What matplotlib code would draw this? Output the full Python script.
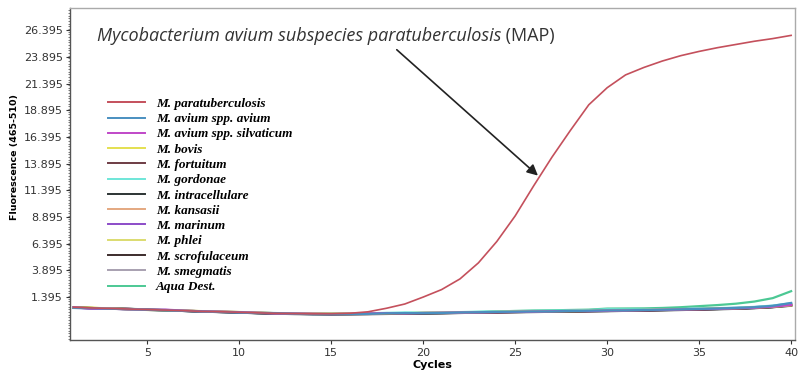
import numpy as np
import matplotlib
matplotlib.use("Agg")
import matplotlib.pyplot as plt
from matplotlib.ticker import MultipleLocator

# amplification curves, one value per cycle (1..40)
cycles = list(range(1, 41))

map_curve = [0.45, 0.38, 0.33, 0.28, 0.22, 0.18, 0.12, 0.06, 0.02, -0.02,
             -0.08, -0.12, -0.15, -0.17, -0.16, -0.12, 0.02, 0.35, 0.75, 1.4,
             2.1, 3.1, 4.6, 6.6, 9.0, 11.8, 14.5, 17.0, 19.4, 21.0,
             22.2, 22.9, 23.5, 24.0, 24.4, 24.75, 25.05, 25.35, 25.6, 25.9]
avium = [0.40, 0.36, 0.30, 0.27, 0.20, 0.15, 0.10, 0.05, 0.00, -0.05,
         -0.10, -0.10, -0.16, -0.20, -0.20, -0.19, -0.17, -0.12, -0.10, -0.11,
         -0.09, -0.04, -0.02, 0.01, 0.03, 0.05, 0.05, 0.09, 0.12, 0.15,
         0.15, 0.19, 0.22, 0.25, 0.29, 0.33, 0.38, 0.45, 0.58, 0.85]
silvaticum = [0.45, 0.30, 0.31, 0.25, 0.21, 0.22, 0.13, 0.07, 0.03, -0.01,
              -0.07, -0.14, -0.14, -0.16, -0.19, -0.17, -0.13, -0.10, -0.13, -0.09,
              -0.07, -0.05, -0.04, -0.01, 0.01, 0.03, 0.07, 0.10, 0.09, 0.12,
              0.14, 0.17, 0.20, 0.23, 0.26, 0.30, 0.34, 0.40, 0.50, 0.65]
bovis = [0.43, 0.39, 0.34, 0.26, 0.19, 0.17, 0.14, 0.08, 0.04, 0.00,
         -0.06, -0.11, -0.13, -0.15, -0.16, -0.15, -0.15, -0.13, -0.11, -0.08,
         -0.07, -0.05, -0.02, 0.01, 0.04, 0.05, 0.07, 0.09, 0.11, 0.14,
         0.16, 0.19, 0.22, 0.25, 0.28, 0.32, 0.35, 0.41, 0.49, 0.62]
fortuitum = [0.41, 0.37, 0.32, 0.29, 0.23, 0.16, 0.11, 0.04, 0.01, -0.03,
             -0.09, -0.13, -0.17, -0.18, -0.20, -0.20, -0.18, -0.16, -0.14, -0.12,
             -0.10, -0.07, -0.05, -0.02, 0.00, 0.02, 0.04, 0.07, 0.09, 0.11,
             0.14, 0.17, 0.19, 0.22, 0.26, 0.29, 0.34, 0.40, 0.48, 0.66]
gordonae = [0.38, 0.36, 0.31, 0.27, 0.24, 0.19, 0.13, 0.07, 0.03, -0.01,
            -0.07, -0.10, -0.12, -0.15, -0.16, -0.15, -0.12, -0.08, -0.04, -0.06,
            -0.04, -0.01, 0.03, 0.06, 0.08, 0.10, 0.12, 0.14, 0.18, 0.26,
            0.24, 0.23, 0.25, 0.28, 0.33, 0.37, 0.40, 0.48, 0.60, 0.82]
intracellulare = [0.42, 0.37, 0.32, 0.27, 0.21, 0.17, 0.10, 0.04, -0.01, -0.05,
                  -0.12, -0.16, -0.19, -0.21, -0.22, -0.21, -0.20, -0.18, -0.16, -0.14,
                  -0.12, -0.09, -0.06, -0.04, -0.02, 0.00, 0.02, 0.04, 0.06, 0.08,
                  0.11, 0.13, 0.16, 0.19, 0.22, 0.26, 0.30, 0.36, 0.45, 0.60]
kansasii = [0.40, 0.38, 0.33, 0.28, 0.22, 0.18, 0.12, 0.06, 0.02, -0.02,
            -0.08, -0.12, -0.15, -0.17, -0.18, -0.18, -0.16, -0.14, -0.12, -0.10,
            -0.08, -0.06, -0.03, -0.02, 0.02, 0.04, 0.06, 0.08, 0.10, 0.13,
            0.16, 0.18, 0.21, 0.24, 0.27, 0.31, 0.36, 0.42, 0.52, 0.70]
marinum = [0.39, 0.33, 0.35, 0.30, 0.20, 0.19, 0.14, 0.05, 0.03, -0.04,
           -0.06, -0.11, -0.14, -0.18, -0.17, -0.16, -0.15, -0.15, -0.11, -0.09,
           -0.06, -0.05, -0.02, 0.02, 0.03, 0.06, 0.08, 0.09, 0.12, 0.14,
           0.17, 0.20, 0.23, 0.27, 0.30, 0.34, 0.39, 0.46, 0.56, 0.78]
phlei = [0.44, 0.40, 0.32, 0.29, 0.23, 0.17, 0.12, 0.07, 0.02, -0.01,
         -0.07, -0.11, -0.14, -0.16, -0.17, -0.17, -0.16, -0.13, -0.12, -0.10,
         -0.07, -0.06, -0.03, 0.00, 0.02, 0.05, 0.06, 0.08, 0.10, 0.12,
         0.15, 0.18, 0.21, 0.24, 0.27, 0.30, 0.35, 0.41, 0.50, 0.63]
scrofulaceum = [0.41, 0.36, 0.31, 0.26, 0.20, 0.16, 0.10, 0.05, 0.00, -0.04,
                -0.10, -0.14, -0.17, -0.19, -0.20, -0.19, -0.18, -0.16, -0.14, -0.12,
                -0.10, -0.08, -0.05, -0.03, 0.00, 0.02, 0.04, 0.06, 0.08, 0.10,
                0.13, 0.15, 0.18, 0.21, 0.24, 0.28, 0.32, 0.38, 0.47, 0.64]
smegmatis = [0.40, 0.37, 0.32, 0.27, 0.22, 0.17, 0.11, 0.06, 0.01, -0.03,
             -0.08, -0.12, -0.15, -0.17, -0.18, -0.17, -0.16, -0.14, -0.12, -0.09,
             -0.08, -0.05, -0.03, 0.00, 0.02, 0.04, 0.06, 0.08, 0.10, 0.12,
             0.15, 0.17, 0.20, 0.23, 0.26, 0.29, 0.33, 0.38, 0.46, 0.58]
aqua_dest = [0.42, 0.37, 0.33, 0.30, 0.24, 0.18, 0.12, 0.06, 0.02, -0.02,
             -0.08, -0.11, -0.14, -0.16, -0.17, -0.16, -0.14, -0.12, -0.10, -0.08,
             -0.06, -0.03, 0.00, 0.05, 0.10, 0.14, 0.16, 0.19, 0.22, 0.32,
             0.33, 0.34, 0.38, 0.45, 0.55, 0.65, 0.78, 0.98, 1.30, 1.95]

labels = ["M. paratuberculosis", "M. avium spp. avium", "M. avium spp. silvaticum",
          "M. bovis", "M. fortuitum", "M. gordonae", "M. intracellulare",
          "M. kansasii", "M. marinum", "M. phlei", "M. scrofulaceum",
          "M. smegmatis", "Aqua Dest."]
series = [map_curve, avium, silvaticum, bovis, fortuitum, gordonae, intracellulare,
          kansasii, marinum, phlei, scrofulaceum, smegmatis, aqua_dest]
colors = ["#c4505c", "#4a8fc0", "#c048c8", "#e4e050", "#6e3c44", "#6ee6d8",
          "#2c3434", "#e4a880", "#8c4cc8", "#dcdc70", "#3c2c2c", "#a8a0b0",
          "#4cc894"]

ytick_vals = [1.395, 3.895, 6.395, 8.895, 11.395, 13.895, 16.395, 18.895,
              21.395, 23.895, 26.395]
xtick_vals = [5, 10, 15, 20, 25, 30, 35, 40]

fig = plt.figure(figsize=(7.98, 3.83), dpi=100)
ax = fig.add_axes([0.0877, 0.112, 0.9083, 0.867])

# baseline curves first, MAP on top
for i in range(len(series) - 1, -1, -1):
    lw = 1.2 if i == 0 else 1.6
    ax.plot(cycles, series[i], color=colors[i], lw=lw, label=labels[i],
            zorder=3 if i == 0 else 2)

ax.set_xlim(0.8, 40.2)
ax.set_ylim(-2.63, 28.46)
ax.set_xticks(xtick_vals)
ax.set_yticks(ytick_vals)
ax.set_yticklabels(["%.3f" % v for v in ytick_vals])
ax.yaxis.set_minor_locator(MultipleLocator(0.25))
ax.tick_params(axis="both", labelsize=8, colors="#333333", length=3)
ax.tick_params(axis="y", which="minor", length=1.5, color="#666666")
ax.tick_params(axis="y", pad=2)
ax.tick_params(axis="x", pad=3)

for side, sp in ax.spines.items():
    sp.set_color("#555555" if side in ("left", "bottom") else "#aaaaaa")
    sp.set_linewidth(1.0)

ax.set_xlabel("Cycles", fontsize=8, fontweight="bold", labelpad=1)
ax.set_ylabel("Fluorescence (465-510)", fontsize=6.8, fontweight="bold")
ax.yaxis.set_label_coords(-0.07, 0.551)

handles, labs = ax.get_legend_handles_labels()
order = list(range(len(handles) - 1, -1, -1))
leg = ax.legend([handles[k] for k in order], [labs[k] for k in order],
                loc="upper left", bbox_to_anchor=(0.052, 0.730), frameon=False,
                borderaxespad=0, borderpad=0,
                prop={"family": "Liberation Serif", "style": "italic",
                      "weight": "bold", "size": 9.5},
                handlelength=2.8, handletextpad=0.85, labelspacing=0.23)
for line in leg.get_lines():
    line.set_linewidth(1.4)

# annotation pointing at the MAP curve
t1 = ax.text(0.037, 0.9, "Mycobacterium avium subspecies paratuberculosis",
             transform=ax.transAxes, fontsize=13, family="Open Sans",
             style="italic", color="#333333", va="baseline")
ax.annotate(" (MAP)", xy=(1, 0), xycoords=t1, fontsize=13, family="Open Sans",
            color="#333333", va="bottom")
ax.annotate("", xy=(26.35, 12.6), xytext=(0.448, 0.88), textcoords="axes fraction",
            arrowprops=dict(arrowstyle="-|>", color="#222222", lw=1.2,
                            mutation_scale=16))

fig.savefig("out.png", dpi=100)
